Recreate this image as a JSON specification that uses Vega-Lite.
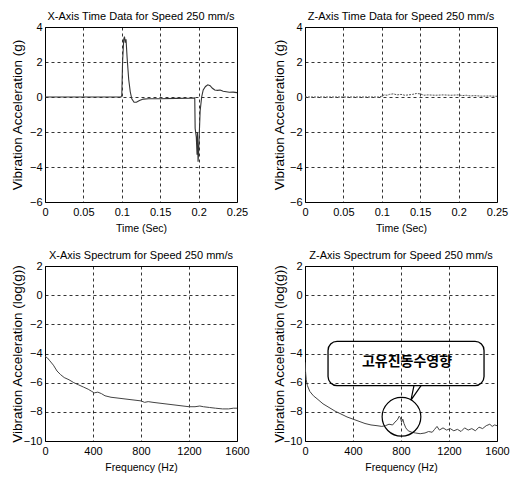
{
  "$schema": "https://vega.github.io/schema/vega-lite/v6.json",
  "padding": {"left": 9, "top": 10, "right": 0, "bottom": 0},
  "background": "white",
  "columns": 2,
  "spacing": {"row": 15, "column": 21},
  "config": {
    "font": "Liberation Sans",
    "view": {"stroke": "black", "strokeWidth": 1},
    "axis": {"grid": true, "gridColor": "black", "gridDash": [3, 3], "gridOpacity": 1, "gridWidth": 0.8, "domain": false, "ticks": false, "tickSize": 0, "labelColor": "black", "titleColor": "black", "labelFontSize": 11, "titleFontWeight": "normal", "labelPadding": 3, "labelOverlap": false},
    "axisX": {"labelPadding": 4, "titlePadding": 6, "titleFontSize": 10.5, "labelFlush": false},
    "axisY": {"titleFontSize": 13.5, "titlePadding": 2, "labelPadding": 3, "labelFlush": false},
    "title": {"fontSize": 11, "fontWeight": "normal", "offset": -1, "color": "black"}
  },
  "concat": [
    {
      "width": 192, "height": 175,
      "title": "X-Axis Time Data for Speed 250 mm/s",
      "data": {"values": [
        {"t": 0, "a": 0}, {"t": 0.02, "a": 0}, {"t": 0.05, "a": 0}, {"t": 0.08, "a": 0}, {"t": 0.099, "a": 0},
        {"t": 0.1, "a": 0.1}, {"t": 0.101, "a": 2.0}, {"t": 0.1025, "a": 3.3}, {"t": 0.1035, "a": 3.45}, {"t": 0.1045, "a": 3.1},
        {"t": 0.1055, "a": 3.3}, {"t": 0.107, "a": 2.2}, {"t": 0.109, "a": 1.0}, {"t": 0.111, "a": 0.3}, {"t": 0.113, "a": -0.1},
        {"t": 0.116, "a": -0.3}, {"t": 0.119, "a": -0.3}, {"t": 0.123, "a": -0.2}, {"t": 0.128, "a": -0.12}, {"t": 0.135, "a": -0.1},
        {"t": 0.15, "a": -0.1}, {"t": 0.17, "a": -0.08}, {"t": 0.19, "a": -0.07}, {"t": 0.195, "a": -0.05}, {"t": 0.1955, "a": -1.8},
        {"t": 0.197, "a": -2.3}, {"t": 0.198, "a": -3.3}, {"t": 0.1985, "a": -2.0}, {"t": 0.1993, "a": -3.7}, {"t": 0.2, "a": -3.2},
        {"t": 0.201, "a": -2.0}, {"t": 0.202, "a": -0.8}, {"t": 0.204, "a": 0.0}, {"t": 0.206, "a": 0.4}, {"t": 0.209, "a": 0.6},
        {"t": 0.212, "a": 0.7}, {"t": 0.215, "a": 0.65}, {"t": 0.218, "a": 0.5}, {"t": 0.221, "a": 0.4}, {"t": 0.225, "a": 0.38},
        {"t": 0.228, "a": 0.4}, {"t": 0.232, "a": 0.33}, {"t": 0.236, "a": 0.3}, {"t": 0.24, "a": 0.27}, {"t": 0.245, "a": 0.28},
        {"t": 0.25, "a": 0.25}
      ]},
      "mark": {"type": "line", "color": "#333", "strokeWidth": 1.1, "clip": true},
      "encoding": {
        "x": {"field": "t", "type": "quantitative", "scale": {"domain": [0, 0.25], "nice": false, "zero": false}, "axis": {"title": "Time (Sec)", "values": [0, 0.05, 0.1, 0.15, 0.2, 0.25], "format": "~g"}},
        "y": {"field": "a", "type": "quantitative", "scale": {"domain": [-6, 4], "nice": false, "zero": false}, "axis": {"title": "Vibration Acceleration (g)", "values": [-6, -4, -2, 0, 2, 4], "titleX": -21}}
      }
    },
    {
      "width": 192, "height": 175,
      "title": "Z-Axis Time Data for Speed 250 mm/s",
      "data": {"values": [
        {"t": 0, "a": 0}, {"t": 0.05, "a": 0}, {"t": 0.097, "a": 0}, {"t": 0.1, "a": 0.05}, {"t": 0.103, "a": 0.12},
        {"t": 0.107, "a": 0.1}, {"t": 0.11, "a": 0.15}, {"t": 0.115, "a": 0.18}, {"t": 0.12, "a": 0.12}, {"t": 0.125, "a": 0.15},
        {"t": 0.13, "a": 0.1}, {"t": 0.135, "a": 0.12}, {"t": 0.14, "a": 0.15}, {"t": 0.145, "a": 0.2}, {"t": 0.15, "a": 0.18},
        {"t": 0.155, "a": 0.1}, {"t": 0.16, "a": 0.12}, {"t": 0.17, "a": 0.1}, {"t": 0.18, "a": 0.12}, {"t": 0.19, "a": 0.1},
        {"t": 0.2, "a": 0.12}, {"t": 0.205, "a": 0.08}, {"t": 0.21, "a": 0.1}, {"t": 0.215, "a": 0.06}, {"t": 0.22, "a": 0.08},
        {"t": 0.23, "a": 0.05}, {"t": 0.24, "a": 0.06}, {"t": 0.25, "a": 0.04}
      ]},
      "mark": {"type": "line", "color": "#555", "strokeWidth": 1, "strokeDash": [2, 1], "clip": true},
      "encoding": {
        "x": {"field": "t", "type": "quantitative", "scale": {"domain": [0, 0.25], "nice": false, "zero": false}, "axis": {"title": "Time (Sec)", "values": [0, 0.05, 0.1, 0.15, 0.2, 0.25], "format": "~g"}},
        "y": {"field": "a", "type": "quantitative", "scale": {"domain": [-6, 4], "nice": false, "zero": false}, "axis": {"title": "Vibration Acceleration (g)", "values": [-6, -4, -2, 0, 2, 4], "titleX": -19}}
      }
    },
    {
      "width": 192, "height": 175,
      "title": "X-Axis Spectrum for Speed 250 mm/s",
      "data": {"values": [
        {"f": 0, "a": -4.2}, {"f": 20, "a": -4.3}, {"f": 40, "a": -4.5}, {"f": 70, "a": -4.8}, {"f": 100, "a": -5.2},
        {"f": 130, "a": -5.45}, {"f": 160, "a": -5.65}, {"f": 200, "a": -5.8}, {"f": 240, "a": -6.0}, {"f": 280, "a": -6.15},
        {"f": 320, "a": -6.3}, {"f": 360, "a": -6.45}, {"f": 390, "a": -6.6}, {"f": 410, "a": -6.7}, {"f": 440, "a": -6.65},
        {"f": 470, "a": -6.75}, {"f": 500, "a": -6.9}, {"f": 550, "a": -7.0}, {"f": 600, "a": -7.05}, {"f": 650, "a": -7.1},
        {"f": 700, "a": -7.15}, {"f": 750, "a": -7.2}, {"f": 800, "a": -7.25}, {"f": 830, "a": -7.35}, {"f": 860, "a": -7.3},
        {"f": 900, "a": -7.35}, {"f": 950, "a": -7.4}, {"f": 1000, "a": -7.45}, {"f": 1050, "a": -7.5}, {"f": 1100, "a": -7.55},
        {"f": 1150, "a": -7.6}, {"f": 1200, "a": -7.65}, {"f": 1250, "a": -7.65}, {"f": 1290, "a": -7.6}, {"f": 1320, "a": -7.65},
        {"f": 1370, "a": -7.7}, {"f": 1420, "a": -7.75}, {"f": 1480, "a": -7.8}, {"f": 1530, "a": -7.8}, {"f": 1570, "a": -7.75},
        {"f": 1600, "a": -7.75}
      ]},
      "mark": {"type": "line", "color": "#444", "strokeWidth": 1, "clip": true},
      "encoding": {
        "x": {"field": "f", "type": "quantitative", "scale": {"domain": [0, 1600], "nice": false}, "axis": {"title": "Frequency (Hz)", "values": [0, 400, 800, 1200, 1600], "format": "d"}},
        "y": {"field": "a", "type": "quantitative", "scale": {"domain": [-10, 2], "nice": false, "zero": false}, "axis": {"title": "Vibration Acceleration (log(g))", "values": [-10, -8, -6, -4, -2, 0, 2], "titleX": -21}}
      }
    },
    {
      "width": 192, "height": 175,
      "title": "Z-Axis Spectrum for Speed 250 mm/s",
      "encoding": {
        "x": {"field": "f", "type": "quantitative", "scale": {"domain": [0, 1600], "nice": false}, "axis": {"title": "Frequency (Hz)", "values": [0, 400, 800, 1200, 1600], "format": "d"}},
        "y": {"field": "a", "type": "quantitative", "scale": {"domain": [-10, 2], "nice": false, "zero": false}, "axis": {"title": "Vibration Acceleration (log(g))", "values": [-10, -8, -6, -4, -2, 0, 2], "titleX": -19}}
      },
      "layer": [
        {
          "data": {"values": [
            {"f": 0, "a": -4.6}, {"f": 5, "a": -5.3}, {"f": 10, "a": -5.8}, {"f": 20, "a": -6.2}, {"f": 40, "a": -6.6},
            {"f": 70, "a": -6.9}, {"f": 100, "a": -7.1}, {"f": 150, "a": -7.45}, {"f": 200, "a": -7.7}, {"f": 250, "a": -7.95},
            {"f": 300, "a": -8.15}, {"f": 350, "a": -8.35}, {"f": 400, "a": -8.5}, {"f": 450, "a": -8.65}, {"f": 500, "a": -8.8},
            {"f": 550, "a": -8.9}, {"f": 600, "a": -8.95}, {"f": 640, "a": -9.0}, {"f": 670, "a": -8.95}, {"f": 700, "a": -8.85},
            {"f": 730, "a": -8.9}, {"f": 750, "a": -8.7}, {"f": 770, "a": -8.55}, {"f": 785, "a": -8.3}, {"f": 795, "a": -8.4},
            {"f": 805, "a": -8.7}, {"f": 815, "a": -8.5}, {"f": 825, "a": -8.8}, {"f": 840, "a": -9.1}, {"f": 860, "a": -9.3},
            {"f": 890, "a": -9.4}, {"f": 920, "a": -9.45}, {"f": 960, "a": -9.5}, {"f": 1000, "a": -9.45}, {"f": 1030, "a": -9.35},
            {"f": 1060, "a": -9.4}, {"f": 1080, "a": -9.2}, {"f": 1100, "a": -9.0}, {"f": 1120, "a": -9.25}, {"f": 1150, "a": -9.1},
            {"f": 1180, "a": -9.25}, {"f": 1210, "a": -9.15}, {"f": 1240, "a": -9.3}, {"f": 1270, "a": -9.2}, {"f": 1300, "a": -9.35},
            {"f": 1330, "a": -9.1}, {"f": 1360, "a": -9.25}, {"f": 1390, "a": -9.15}, {"f": 1420, "a": -9.3}, {"f": 1450, "a": -9.05},
            {"f": 1480, "a": -9.15}, {"f": 1510, "a": -8.95}, {"f": 1540, "a": -8.85}, {"f": 1560, "a": -9.0}, {"f": 1580, "a": -8.9},
            {"f": 1600, "a": -8.95}
          ]},
          "mark": {"type": "line", "color": "#444", "strokeWidth": 1, "clip": true}
        },
        {
          "data": {"values": [{"f": 192, "f2": 1492, "a": -3.17, "a2": -6.2}]},
          "mark": {"type": "rect", "fillOpacity": 0, "stroke": "black", "strokeWidth": 1.3, "cornerRadius": 9},
          "encoding": {
            "x2": {"field": "f2"},
            "y2": {"field": "a2"}
          }
        },
        {
          "data": {"values": [{"f": 850, "a": -4.55, "label": "고유진동수영향"}]},
          "mark": {"type": "text", "font": "Noto Sans CJK KR", "fontSize": 14, "fontWeight": "bold", "color": "black", "align": "center", "baseline": "middle"},
          "encoding": {
            "text": {"field": "label"}
          }
        },
        {
          "data": {"values": [{"f": 908, "a": -6.2, "o": 1}, {"f": 883, "a": -7.2, "o": 2}, {"f": 967, "a": -6.2, "o": 3}]},
          "mark": {"type": "line", "color": "black", "strokeWidth": 1.2},
          "encoding": {
            "order": {"field": "o"}
          }
        },
        {
          "data": {"values": [{"f": 804, "a": -8.34}]},
          "mark": {"type": "point", "shape": "circle", "size": 1500, "filled": false, "stroke": "black", "strokeWidth": 1.2, "opacity": 1}
        }
      ]
    }
  ]
}
